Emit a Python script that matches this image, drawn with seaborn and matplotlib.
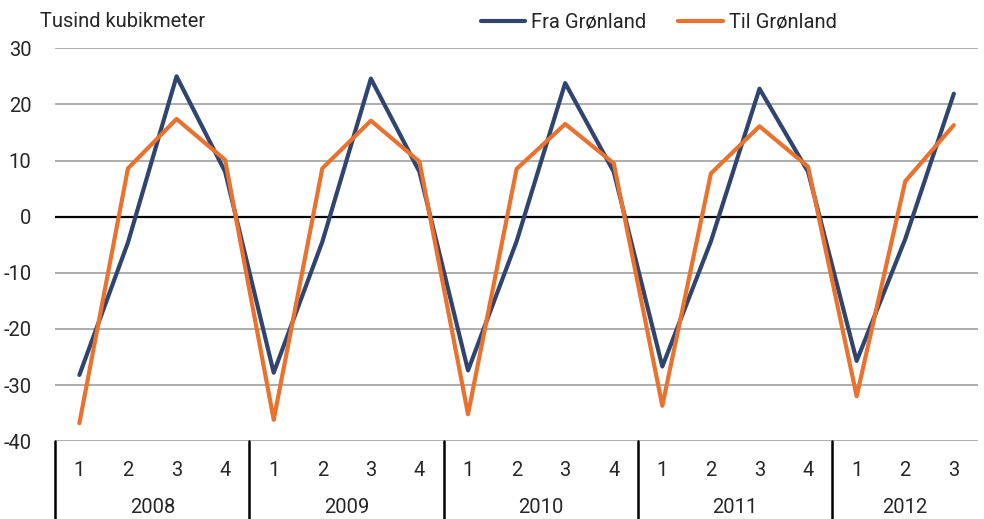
import pandas as pd
import matplotlib
matplotlib.use("Agg")
import matplotlib.pyplot as plt
import matplotlib.transforms as mtransforms
import seaborn as sns

# Data (thousand cubic metres)
years = ["2008", "2009", "2010", "2011", "2012"]
quarters = ["1", "2", "3", "4"] * 4 + ["1", "2", "3"]
fra_groenland = [-28.2, -4.6, 25.0, 8.0,
                 -27.8, -4.5, 24.6, 8.0,
                 -27.4, -4.4, 23.8, 8.0,
                 -26.7, -4.4, 22.8, 8.0,
                 -25.7, -4.0, 21.9]
til_groenland = [-36.8, 8.6, 17.4, 10.1,
                 -36.2, 8.6, 17.1, 9.8,
                 -35.2, 8.5, 16.5, 9.5,
                 -33.7, 7.7, 16.1, 8.9,
                 -32.0, 6.3, 16.3]

n = len(quarters)
df = pd.DataFrame({
    "pos": list(range(n)) * 2,
    "value": fra_groenland + til_groenland,
    "series": ["Fra Grønland"] * n + ["Til Grønland"] * n,
})

sns.set_style("white")
plt.rcParams["font.family"] = ["Roboto", "DejaVu Sans"]

fig = plt.figure(figsize=(9.84, 5.19), dpi=100)
ax = fig.add_axes([0.056, 0.150, 0.938, 0.757])

ax.set_ylim(-40, 30)
ax.set_xlim(-0.5, n - 0.5)
for y in [30, 20, 10, -10, -20, -30, -40]:
    ax.axhline(y, color="#a0a0a0", lw=1.2, zorder=0)
ax.axhline(0, color="black", lw=1.6, zorder=1)

sns.lineplot(data=df, x="pos", y="value", hue="series",
             palette={"Fra Grønland": "#2f4570", "Til Grønland": "#e8722e"},
             lw=3, ax=ax, legend=True)

for s in ax.spines.values():
    s.set_visible(False)

ax.set_yticks([30, 20, 10, 0, -10, -20, -30, -40])
ax.set_yticklabels(["30", "20", "10", "0", "-10", "-20", "-30", "-40"], fontsize=14.5)
ax.tick_params(axis="y", length=0, pad=17)
ax.set_xticks(range(n))
ax.set_xticklabels(quarters, fontsize=14.5)
ax.tick_params(axis="x", length=0, pad=14)
ax.set_xlabel("")
ax.set_ylabel("")

# year labels and separators below the axis
trans = mtransforms.blended_transform_factory(ax.transData, ax.transAxes)
starts = [0, 4, 8, 12, 16]
ends = [4, 8, 12, 16, n]
for yr, a, b in zip(years, starts, ends):
    ax.text((a + b - 1) / 2, -0.168, yr, transform=trans, ha="center",
            va="center", fontsize=14.5)
    ax.plot([a - 0.5, a - 0.5], [0, -0.2], transform=trans, color="black",
            lw=1.8, clip_on=False)

fig.text(0.041, 0.958, "Tusind kubikmeter", fontsize=14.5, va="center")

ax.legend(loc="center", bbox_to_anchor=(0.654, 1.066), ncol=2, frameon=False,
          fontsize=14.5, handlelength=2.2, handletextpad=0.3, columnspacing=1.6,
          borderaxespad=0)

fig.savefig("out.png", dpi=100)
